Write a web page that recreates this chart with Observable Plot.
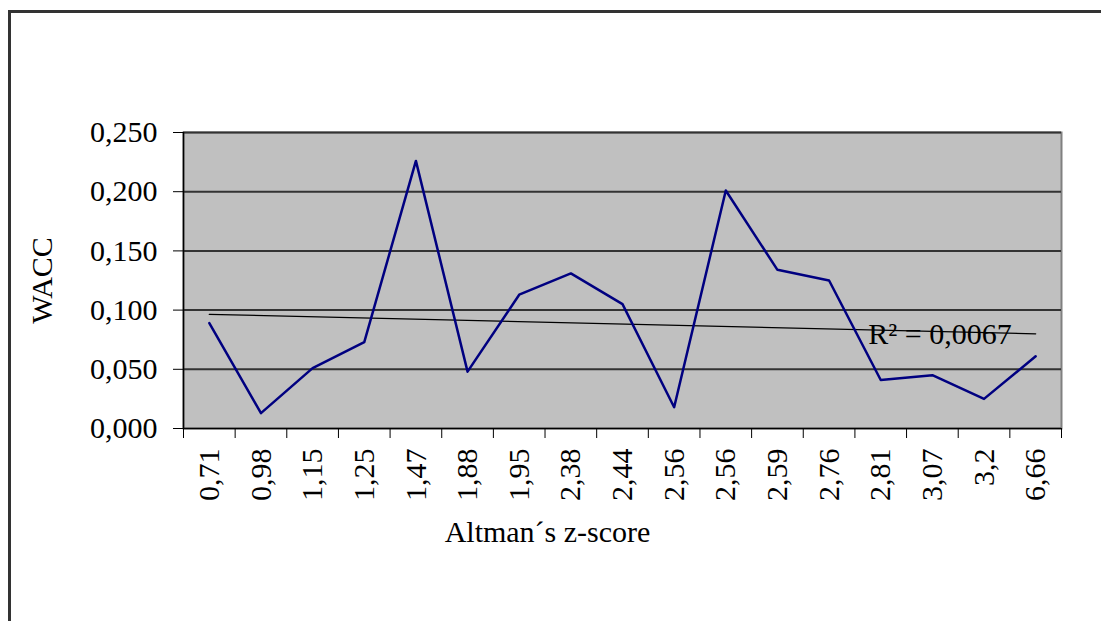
<!DOCTYPE html>
<html>
<head>
<meta charset="utf-8">
<script src="https://cdn.jsdelivr.net/npm/d3@7"></script>
<script src="https://cdn.jsdelivr.net/npm/@observablehq/plot@0.6"></script>
<style>
  html, body { margin: 0; padding: 0; background: #fff; overflow: hidden; }
  #wrap { position: relative; width: 1101px; height: 621px; }
  #border { position: absolute; left: 8px; top: 10px; width: 1100px; height: 620px;
            border-top: 3px solid #333; border-left: 3px solid #333; box-sizing: border-box; pointer-events: none; }
  #chart svg { display: block; }
</style>
</head>
<body>
<div id="wrap"><div id="chart"></div><div id="border"></div></div>
<script>
// Categories (Altman's z-score), in order of the x axis
const categories = ["0,71","0,98","1,15","1,25","1,47","1,88","1,95","2,38","2,44","2,56","2,56","2,59","2,76","2,81","3,07","3,2","6,66"];
// WACC values
const wacc = [0.089,0.013,0.051,0.073,0.226,0.048,0.113,0.131,0.105,0.018,0.201,0.134,0.125,0.041,0.045,0.025,0.061];
// Y axis ticks
const yTicks = [0, 0.05, 0.10, 0.15, 0.20, 0.25];
const yLabel = "WACC";
const xLabel = "Altman´s z-score";
const r2Label = "R² = 0,0067";

const data = wacc.map((v, k) => ({i: k + 1, v, cat: categories[k]}));
const idx = data.map(d => d.i);
const bounds = [...idx.map(i => i - 0.5), idx.length + 0.5];

// linear least squares trend over the category index
const mx = d3.mean(data, d => d.i), my = d3.mean(data, d => d.v);
const slope = d3.sum(data, d => (d.i - mx) * (d.v - my)) / d3.sum(data, d => (d.i - mx) ** 2);
const icpt = my - slope * mx;
const first = idx[0], last = idx[idx.length - 1];
const trend = [first, last].map(i => ({i, v: icpt + slope * i}));

const fmt = d => d.toFixed(3).replace(".", ",");

const chart = Plot.plot({
  width: 1101,
  height: 621,
  marginLeft: 183,
  marginRight: 40,
  marginTop: 132,
  marginBottom: 193,
  style: {fontFamily: "'Liberation Serif', 'Times New Roman', serif", fontSize: "30px", background: "transparent", color: "#000", overflow: "visible"},
  x: {type: "linear", domain: [0.5, idx.length + 0.5]},
  y: {domain: [0, 0.25]},
  marks: [
    Plot.frame({fill: "#c0c0c0", stroke: "#808080", strokeWidth: 2}),
    Plot.gridY(yTicks.slice(1), {stroke: "#333", strokeOpacity: 1, strokeWidth: 2}),
    Plot.ruleX([0.5], {stroke: "#000", strokeWidth: 1.5}),
    Plot.ruleY([0], {stroke: "#000", strokeWidth: 1.5}),
    Plot.axisY(yTicks, {tickFormat: fmt, tickSize: 10, tickPadding: 16, label: null, fontSize: 30}),
    Plot.axisX(bounds, {tickFormat: () => "", tickSize: 10, label: null}),
    Plot.axisX(idx, {tickFormat: i => categories[i - 1], tickSize: 0, tickPadding: 20, tickRotate: -90, label: null, fontSize: 30}),
    Plot.line(trend, {x: "i", y: "v", stroke: "#000", strokeWidth: 1.3}),
    Plot.line(data, {x: "i", y: "v", stroke: "#000080", strokeWidth: 2.5}),
    Plot.text([{i: last, v: trend[1].v, t: r2Label}], {x: "i", y: "v", text: "t", textAnchor: "end", lineAnchor: "middle", dx: -24, dy: 1, fontSize: 30, fill: "#000"}),
    Plot.text([yLabel], {frameAnchor: "left", rotate: -90, dx: -141, textAnchor: "middle", lineAnchor: "middle", fontSize: 30, fill: "#000"}),
    Plot.text([xLabel], {frameAnchor: "bottom", dx: -75, dy: 104, textAnchor: "middle", lineAnchor: "middle", fontSize: 30, fill: "#000"})
  ]
});
document.getElementById("chart").appendChild(chart);
</script>
</body>
</html>
